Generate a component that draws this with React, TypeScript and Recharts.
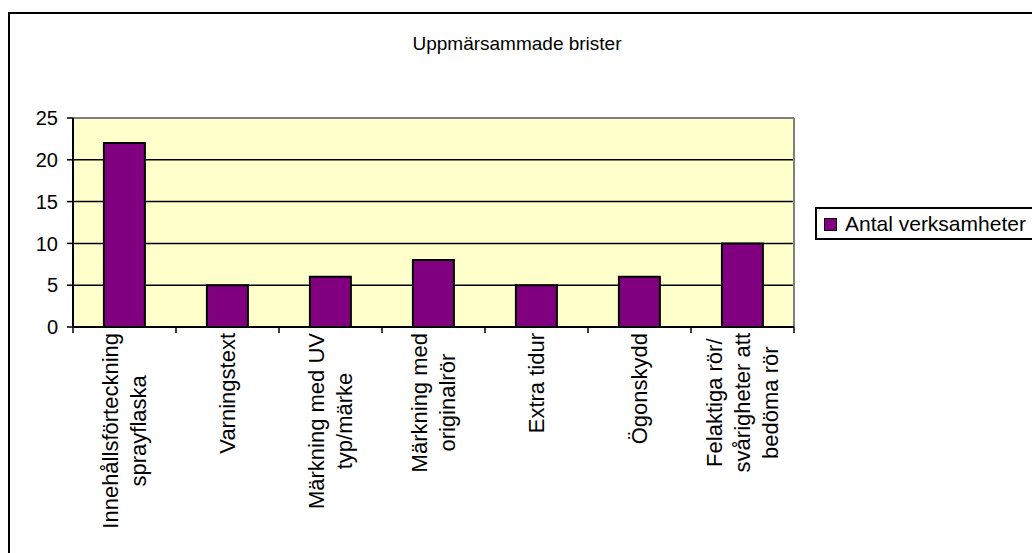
import React from 'react';
import { BarChart, Bar, XAxis, YAxis, CartesianGrid, ReferenceLine } from 'recharts';

const categories = [
  'Innehållsförteckning\nsprayflaska',
  'Varningstext',
  'Märkning med UV\ntyp/märke',
  'Märkning med\noriginalrör',
  'Extra tidur',
  'Ögonskydd',
  'Felaktiga rör/\nsvårigheter att\nbedöma rör',
];
const antalVerksamheter = [22, 5, 6, 8, 5, 6, 10];
const yTicks = [0, 5, 10, 15, 20, 25];
const title = 'Uppmärsammade brister';
const seriesName = 'Antal verksamheter';

const data = categories.map((name, i) => ({ name, value: antalVerksamheter[i] }));

const FONT = 'Arial, "Liberation Sans", sans-serif';
const W = 1032;
const H = 553;
const PLOT_LEFT = 73;
const PLOT_RIGHT = 794;
const PLOT_TOP = 118;
const PLOT_BOTTOM = 327;
const Y_AXIS_W = 60;
const LABEL_SIZE = 22;
const LINE_H = 28;

let measureCtx: CanvasRenderingContext2D | null = null;
function textWidth(s: string, size: number) {
  if (!measureCtx) measureCtx = document.createElement('canvas').getContext('2d');
  if (!measureCtx) return s.length * size * 0.5;
  measureCtx.font = `${size}px ${FONT}`;
  return measureCtx.measureText(s).width;
}

const CategoryTick = (props: any) => {
  const { x, payload, index } = props;
  const half = (PLOT_RIGHT - PLOT_LEFT) / categories.length / 2;
  const lines = String(payload.value).split('\n');
  const maxW = Math.max(...lines.map((l) => textWidth(l, LABEL_SIZE)));
  const top = PLOT_BOTTOM + 6;
  return (
    <g>
      <line x1={x - half} y1={PLOT_BOTTOM} x2={x - half} y2={PLOT_BOTTOM + 6} stroke="#000" strokeWidth={1.5} />
      {index === categories.length - 1 && (
        <line x1={x + half} y1={PLOT_BOTTOM} x2={x + half} y2={PLOT_BOTTOM + 6} stroke="#000" strokeWidth={1.5} />
      )}
      <g transform={`translate(${x},${top + maxW / 2}) rotate(-90)`}>
        {lines.map((l, i) => (
          <text
            key={i}
            x={0}
            y={(i - (lines.length - 1) / 2) * LINE_H}
            dy="0.35em"
            textAnchor="middle"
            fontSize={LABEL_SIZE}
            fontFamily={FONT}
            fill="#000"
          >
            {l}
          </text>
        ))}
      </g>
    </g>
  );
};

export default function App() {
  return (
    <div style={{ position: 'absolute', left: 0, top: 0, width: W, height: H, overflow: 'hidden', background: '#fff' }}>
      <div
        style={{
          position: 'absolute',
          left: 8,
          top: 12,
          width: 1100,
          height: 700,
          border: '2px solid #000',
        }}
      />
      <div
        style={{
          position: 'absolute',
          left: 0,
          top: 33,
          width: 1034,
          textAlign: 'center',
          fontFamily: FONT,
          fontSize: 19,
          color: '#000',
        }}
      >
        {title}
      </div>
      <div style={{ position: 'absolute', left: 0, top: 0 }}>
        <BarChart
          width={W}
          height={H}
          data={data}
          margin={{ top: PLOT_TOP, right: W - PLOT_RIGHT, bottom: 6, left: PLOT_LEFT - Y_AXIS_W }}
          barCategoryGap="30%"
        >
          <CartesianGrid vertical={false} stroke="#000" strokeWidth={1.5} fill="#FFFFCC" fillOpacity={1} />
          <XAxis
            dataKey="name"
            interval={0}
            height={H - PLOT_BOTTOM - 6}
            tickLine={false}
            tickSize={6}
            tickMargin={2}
            axisLine={{ stroke: '#000', strokeWidth: 2 }}
            tick={<CategoryTick />}
          />
          <YAxis
            domain={[0, 25]}
            ticks={yTicks}
            width={Y_AXIS_W}
            tickSize={6}
            tickMargin={9}
            tickLine={{ stroke: '#000', strokeWidth: 1.5 }}
            axisLine={{ stroke: '#000', strokeWidth: 2 }}
            tick={{ fill: '#000', fontSize: 20, fontFamily: FONT }}
          />
          <ReferenceLine y={25} stroke="#808080" strokeWidth={2} />
          <ReferenceLine x={categories[categories.length - 1]} position="end" stroke="#808080" strokeWidth={2} />
          <Bar
            dataKey="value"
            name={seriesName}
            fill="#800080"
            stroke="#000"
            strokeWidth={2}
            isAnimationActive={false}
          />
        </BarChart>
      </div>
      <div
        style={{
          position: 'absolute',
          left: 815,
          top: 207,
          width: 240,
          height: 33,
          border: '2px solid #000',
          background: '#fff',
          boxSizing: 'border-box',
          fontFamily: FONT,
        }}
      >
        <div
          style={{
            position: 'absolute',
            left: 7,
            top: 9,
            width: 11,
            height: 11,
            background: '#800080',
            border: '1px solid #000',
          }}
        />
        <div
          style={{
            position: 'absolute',
            left: 28,
            top: 3,
            fontSize: 21,
            lineHeight: '24px',
            color: '#000',
            whiteSpace: 'nowrap',
          }}
        >
          {seriesName}
        </div>
      </div>
    </div>
  );
}
